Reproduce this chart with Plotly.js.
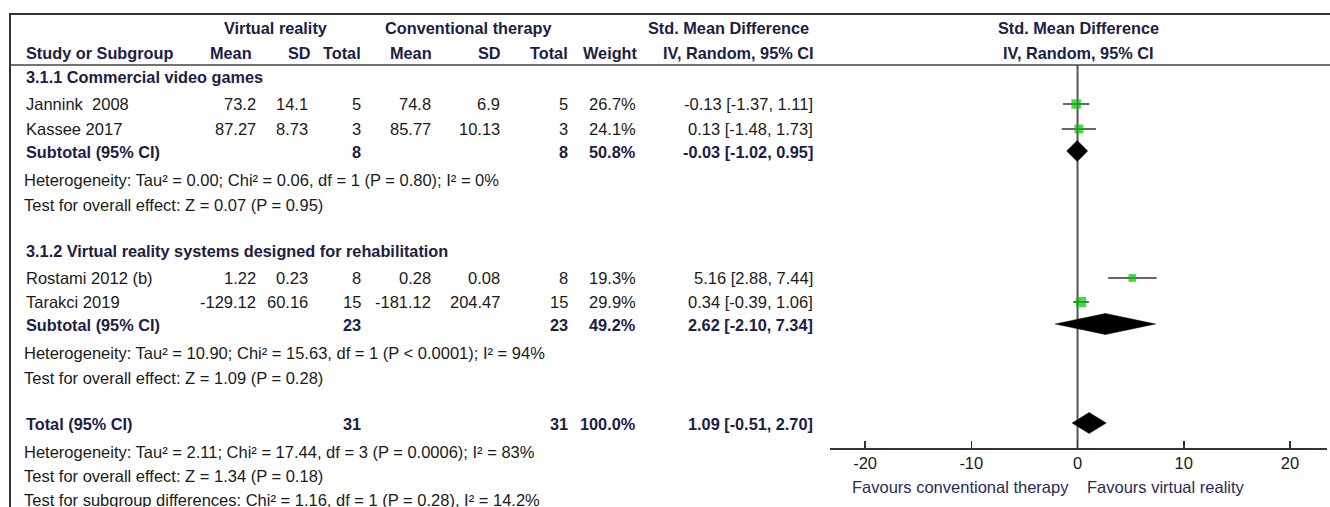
<!DOCTYPE html>
<html><head><meta charset="utf-8">
<script src="https://cdn.plot.ly/plotly-3.0.1.min.js"></script>
<style>body{margin:0;background:#fff}#chart{width:1330px;height:507px}</style>
</head><body><div id="chart"></div>
<script>
// ---------------- data ----------------
const studies   = ["Jannink  2008", "Kassee 2017", "Rostami 2012 (b)", "Tarakci 2019"];
const vrMean    = [73.2, 87.27, 1.22, -129.12];
const vrSd      = [14.1, 8.73, 0.23, 60.16];
const vrN       = [5, 3, 8, 15];
const ctMean    = [74.8, 85.77, 0.28, -181.12];
const ctSd      = [6.9, 10.13, 0.08, 204.47];
const ctN       = [5, 3, 8, 15];
const weight    = [26.7, 24.1, 19.3, 29.9];
const smd       = [-0.13, 0.13, 5.16, 0.34];
const smdLo     = [-1.37, -1.48, 2.88, -0.39];
const smdHi     = [1.11, 1.73, 7.44, 1.06];

const subgroups = ["3.1.1 Commercial video games", "3.1.2 Virtual reality systems designed for rehabilitation"];
const subVrN    = [8, 23];
const subCtN    = [8, 23];
const subWeight = [50.8, 49.2];
const subSmd    = [-0.03, 2.62];
const subLo     = [-1.02, -2.10];
const subHi     = [0.95, 7.34];
const subHet    = ["Heterogeneity: Tau² = 0.00; Chi² = 0.06, df = 1 (P = 0.80); I² = 0%",
                   "Heterogeneity: Tau² = 10.90; Chi² = 15.63, df = 1 (P &lt; 0.0001); I² = 94%"];
const subEffect = ["Test for overall effect: Z = 0.07 (P = 0.95)",
                   "Test for overall effect: Z = 1.09 (P = 0.28)"];

const totalVrN = 31, totalCtN = 31, totalWeight = 100.0;
const totalSmd = 1.09, totalLo = -0.51, totalHi = 2.70;
const totalHet = "Heterogeneity: Tau² = 2.11; Chi² = 17.44, df = 3 (P = 0.0006); I² = 83%";
const totalEffect = "Test for overall effect: Z = 1.34 (P = 0.18)";
const subgroupTest = "Test for subgroup differences: Chi² = 1.16, df = 1 (P = 0.28), I² = 14.2%";

const tickVals  = [-20, -10, 0, 10, 20];
const tickText  = ["-20", "-10", "0", "10", "20"];
const favLeft   = "Favours conventional therapy";
const favRight  = "Favours virtual reality";

// ---------------- layout (pixel positions) ----------------
const W = 1330, H = 507;
const REG = "'Liberation Sans', Arial, sans-serif";
const BLD = "'Liberation Sans', Arial, sans-serif";
const TXT = "#1a1a1a", HDR = "#1d2045";
const REGSIZE = 16.5, HDRSIZE = 16.3;
const col = {study: 24, vrMean: 258, vrSd: 310, vrN: 363, ctMean: 433, ctSd: 502, ctN: 570, weight: 638, ci: 815};
const rowStudy = [104, 129, 278, 302];
const rowSec = [77, 251], rowSub = [152, 325], rowHet = [180, 353], rowEff = [205, 378];
const rowTotal = 424, rowTotHet = 452, rowTotEff = 476, rowSgTest = 500;
const diaHalf = 10.5;

const ann = [];
function A(text, xpx, ypx, anchor, bold, extra) {
  ann.push(Object.assign({
    text: text, x: xpx / W, xref: "paper", y: ypx, yref: "y",
    xanchor: anchor || "left", yanchor: "middle", showarrow: false,
    font: bold ? {family: BLD, size: HDRSIZE, color: HDR, weight: 700}
               : {family: REG, size: REGSIZE, color: TXT}
  }, extra || {}));
}
// headers
A("Virtual reality", 275, 28, "center", true);
A("Conventional therapy", 468, 28, "center", true);
A("Std. Mean Difference", 728, 28, "center", true);
A("Std. Mean Difference", 1078, 28, "center", true);
A("Study or Subgroup", col.study, 53, "left", true);
A("Mean", col.vrMean - 4, 53, "right", true);
A("SD", col.vrSd + 3, 53, "right", true);
A("Total", col.vrN, 53, "right", true);
A("Mean", col.ctMean + 1, 53, "right", true);
A("SD", col.ctSd + 1, 53, "right", true);
A("Total", col.ctN, 53, "right", true);
A("Weight", col.weight + 2, 53, "right", true);
A("IV, Random, 95% CI", col.ci + 1, 53, "right", true);
A("IV, Random, 95% CI", 1078, 53, "center", true);

const f2 = v => v.toFixed(2);
const ciStr = (m, l, h) => f2(m) + " [" + f2(l) + ", " + f2(h) + "]";
// studies
studies.forEach((s, i) => {
  const y = rowStudy[i];
  A(s, col.study, y, "left");
  A(String(vrMean[i]), col.vrMean, y, "right");
  A(String(vrSd[i]), col.vrSd, y, "right");
  A(String(vrN[i]), col.vrN, y, "right");
  A(String(ctMean[i]), col.ctMean, y, "right");
  A(String(ctSd[i]), col.ctSd, y, "right");
  A(String(ctN[i]), col.ctN, y, "right");
  A(weight[i].toFixed(1) + "%", col.weight, y, "right");
  A(ciStr(smd[i], smdLo[i], smdHi[i]), col.ci, y, "right");
});
// subgroups
subgroups.forEach((g, k) => {
  A(g, col.study, rowSec[k], "left", true);
  A("Subtotal (95% CI)", col.study, rowSub[k], "left", true);
  A(String(subVrN[k]), col.vrN, rowSub[k], "right", true);
  A(String(subCtN[k]), col.ctN, rowSub[k], "right", true);
  A(subWeight[k].toFixed(1) + "%", col.weight, rowSub[k], "right", true);
  A(ciStr(subSmd[k], subLo[k], subHi[k]), col.ci, rowSub[k], "right", true);
  A(subHet[k], 22, rowHet[k], "left");
  A(subEffect[k], 22, rowEff[k], "left");
});
// total
A("Total (95% CI)", col.study, rowTotal, "left", true);
A(String(totalVrN), col.vrN, rowTotal, "right", true);
A(String(totalCtN), col.ctN, rowTotal, "right", true);
A(totalWeight.toFixed(1) + "%", col.weight, rowTotal, "right", true);
A(ciStr(totalSmd, totalLo, totalHi), col.ci, rowTotal, "right", true);
A(totalHet, 22, rowTotHet, "left");
A(totalEffect, 22, rowTotEff, "left");
A(subgroupTest, 22, rowSgTest, "left");
// favours
A(favLeft, 1071, 487, "right", false, {font: {family: REG, size: REGSIZE, color: "#2a2a5a"}});
A(favRight, 1085, 487, "left", false, {font: {family: REG, size: REGSIZE, color: "#2a2a5a"}});

// ---------------- traces ----------------
const traces = [];
traces.push({
  type: "scatter", mode: "markers", x: smd, y: rowStudy, hoverinfo: "skip",
  error_x: {type: "data", symmetric: false,
            array: smd.map((m, i) => smdHi[i] - m),
            arrayminus: smd.map((m, i) => m - smdLo[i]),
            width: 0, thickness: 1.5, color: "#333"},
  marker: {symbol: "square", color: "#00c400", size: weight.map(w => 3.5 + w * 0.22), line: {width: 0}}
});
function diamond(m, l, h, yc) {
  traces.push({type: "scatter", mode: "lines", x: [l, m, h, m, l], y: [yc, yc - diaHalf, yc, yc + diaHalf, yc],
               fill: "toself", fillcolor: "#000", line: {color: "#000", width: 0.5}, hoverinfo: "skip"});
}
subSmd.forEach((m, k) => diamond(m, subLo[k], subHi[k], rowSub[k] - 1));
diamond(totalSmd, totalLo, totalHi, rowTotal - 1);

// ---------------- layout ----------------
const axisY = 448;
const layout = {
  width: W, height: H, margin: {l: 0, r: 0, t: 0, b: 0},
  paper_bgcolor: "#fff", plot_bgcolor: "rgba(0,0,0,0)", showlegend: false,
  xaxis: {domain: [830 / W, 1327 / W], range: [-23.3, 23.48], anchor: "free", position: 1 - axisY / H,
          showline: true, linecolor: "#333", linewidth: 1.5, ticks: "inside", ticklen: 7, tickwidth: 1.5,
          tickcolor: "#333", tickvals: tickVals, ticktext: tickText, showgrid: false, zeroline: false,
          tickfont: {family: REG, size: REGSIZE, color: TXT}, fixedrange: true},
  yaxis: {domain: [0, 1], range: [H, 0], visible: false, fixedrange: true},
  shapes: [
    {type: "line", xref: "paper", yref: "y", x0: 10 / W, x1: 1, y0: 14, y1: 14, line: {color: "#333", width: 2}},
    {type: "line", xref: "paper", yref: "y", x0: 10 / W, x1: 1, y0: 65, y1: 65, line: {color: "#444", width: 1.5}},
    {type: "line", xref: "paper", yref: "y", x0: 10 / W, x1: 10 / W, y0: 13, y1: H, line: {color: "#333", width: 2}},
    {type: "line", xref: "x", yref: "y", x0: 0, x1: 0, y0: 65, y1: axisY, line: {color: "#555", width: 2}, layer: "below"}
  ],
  annotations: ann
};
Plotly.newPlot("chart", traces, layout, {staticPlot: true, displayModeBar: false});
</script>
</body></html>
